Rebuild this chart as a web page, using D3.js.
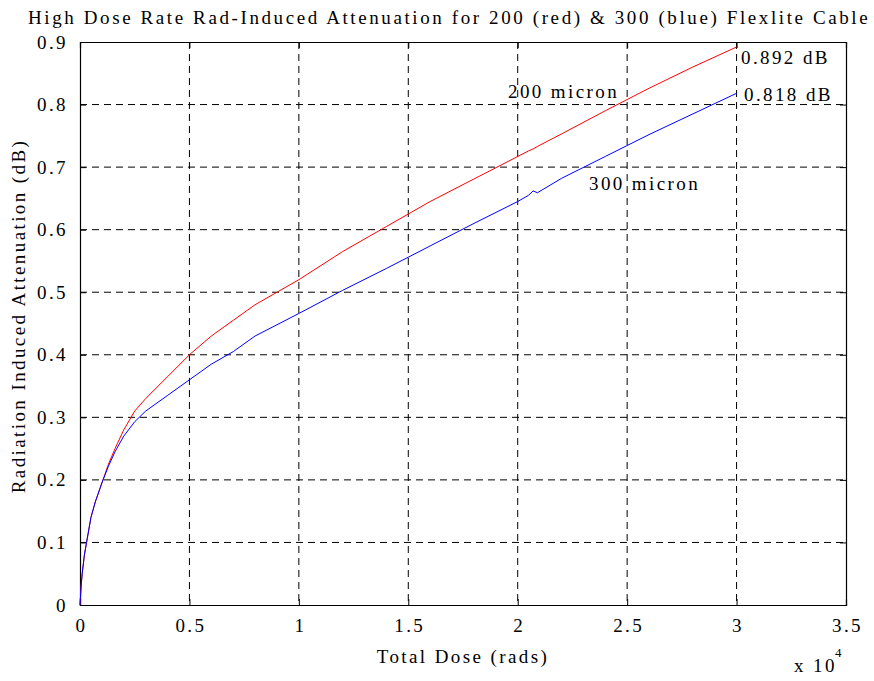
<!doctype html>
<html>
<head>
<meta charset="UTF-8">
<title>Rad-Induced Attenuation</title>
<script src="https://d3js.org/d3.v7.min.js"></script>
<style>
  body { margin: 0; background: #fff; }
  text { font-family: "Liberation Serif", "DejaVu Serif", serif; fill: #000; }
</style>
</head>
<body>
<script>
// dose in units of 1e4 rads
var dose = [0, 0.005, 0.01, 0.02, 0.03, 0.05, 0.07, 0.1, 0.13, 0.16, 0.2, 0.25, 0.3, 0.4, 0.5, 0.6, 0.7, 0.8, 0.9, 1.0,
            1.2, 1.4, 1.6, 1.8, 2.0, 2.05, 2.07, 2.09, 2.2, 2.4, 2.6, 2.8, 3.0];
var red200 = [0, 0.03, 0.05, 0.08, 0.1, 0.14, 0.165, 0.195, 0.225, 0.25, 0.28, 0.31, 0.33, 0.365, 0.40, 0.43, 0.455, 0.48, 0.50, 0.52,
              0.565, 0.605, 0.645, 0.681, 0.717, 0.726, 0.729, 0.733, 0.753, 0.79, 0.826, 0.86, 0.892];
var blue300 = [0, 0.03, 0.05, 0.08, 0.1, 0.14, 0.165, 0.195, 0.222, 0.245, 0.27, 0.293, 0.31, 0.335, 0.36, 0.385, 0.405, 0.43, 0.448, 0.466,
               0.503, 0.538, 0.574, 0.61, 0.645, 0.655, 0.662, 0.659, 0.682, 0.717, 0.752, 0.785, 0.818];
var xTicks = [0, 0.5, 1, 1.5, 2, 2.5, 3, 3.5];
var yTicks = [0, 0.1, 0.2, 0.3, 0.4, 0.5, 0.6, 0.7, 0.8, 0.9];

var w = 874, h = 681;
var pLeft = 80, pRight = 846, pTop = 42, pBottom = 605;
var fs = 19, ls = "2.4px";

var svg = d3.select("body").append("svg").attr("width", w).attr("height", h);

var x = d3.scaleLinear().domain([0, 3.5]).range([pLeft, pRight]);
var y = d3.scaleLinear().domain([0, 0.9]).range([pBottom, pTop]);

// grid
svg.selectAll("line.vg").data(xTicks.slice(1, -1)).enter().append("line")
  .attr("x1", d => x(d)).attr("x2", d => x(d)).attr("y1", pTop).attr("y2", pBottom)
  .attr("stroke", "#000").attr("stroke-width", 1).attr("stroke-dasharray", "7,5");
svg.selectAll("line.hg").data(yTicks.slice(1, -1)).enter().append("line")
  .attr("x1", pLeft).attr("x2", pRight).attr("y1", d => y(d)).attr("y2", d => y(d))
  .attr("stroke", "#000").attr("stroke-width", 1).attr("stroke-dasharray", "7,5");

// axes
var fmt = d => d === 0 ? "0" : String(d);
var xAxis = svg.append("g").attr("transform", "translate(0," + pBottom + ")")
  .call(d3.axisBottom(x).tickValues(xTicks).tickSize(-6).tickPadding(14).tickFormat(fmt));
var xTop = svg.append("g").attr("transform", "translate(0," + pTop + ")")
  .call(d3.axisTop(x).tickValues(xTicks).tickSize(-6).tickFormat(""));
var yAxis = svg.append("g").attr("transform", "translate(" + pLeft + ",0)")
  .call(d3.axisLeft(y).tickValues(yTicks).tickSize(-6).tickPadding(12).tickFormat(fmt));
var yRight = svg.append("g").attr("transform", "translate(" + pRight + ",0)")
  .call(d3.axisRight(y).tickValues(yTicks).tickSize(-6).tickFormat(""));
[xAxis, xTop, yAxis, yRight].forEach(function (g) {
  g.select(".domain").attr("stroke", "#000").attr("stroke-width", 1.2);
  g.selectAll(".tick line").attr("stroke", "#000");
  g.selectAll("text").attr("font-size", fs).attr("font-family", "Liberation Serif").attr("letter-spacing", ls);
});
xAxis.selectAll("text").attr("dx", "1px");

// lines
var line = function (vals) {
  return d3.line().x((d, i) => x(dose[i])).y(d => y(d))(vals);
};
svg.append("path").attr("d", line(red200)).attr("fill", "none").attr("stroke", "#ff0000").attr("stroke-width", 1);
svg.append("path").attr("d", line(blue300)).attr("fill", "none").attr("stroke", "#0000ff").attr("stroke-width", 1);

// labels
function label(t, px, py, anchor, size, rot, sp) {
  var el = svg.append("text").attr("x", px).attr("y", py).attr("font-size", size || fs)
    .attr("text-anchor", anchor || "start").attr("letter-spacing", sp || ls).text(t);
  if (rot) el.attr("transform", "rotate(" + rot + "," + px + "," + py + ")");
  return el;
}
label("High Dose Rate Rad-Induced Attenuation for 200 (red) & 300 (blue) Flexlite Cable", 28, 24, "start", fs, 0, "2.6px");
label("Total Dose (rads)", 463, 663, "middle");
label("Radiation Induced Attenuation (dB)", 25, 316, "middle", fs, -90);
label("200 micron", 508, 98, "start");
label("300 micron", 589, 190, "start");
label("0.892 dB", 741, 64, "start");
label("0.818 dB", 744, 101, "start");
label("x 10", 794, 672, "start");
label("4", 835, 657, "start", 13);
</script>
</body>
</html>
